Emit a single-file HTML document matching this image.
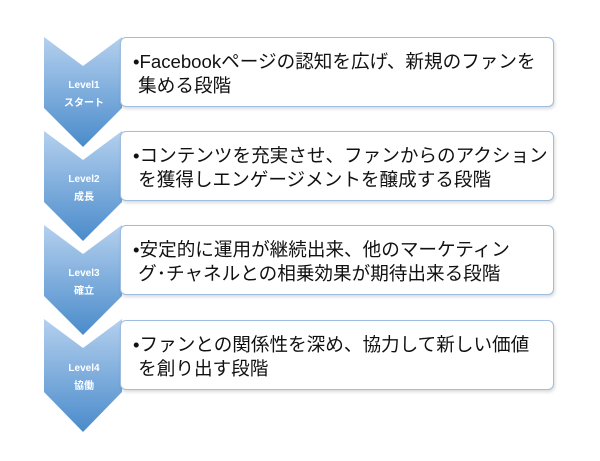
<!DOCTYPE html>
<html><head><meta charset="utf-8"><style>
body{margin:0;width:600px;height:461px;background:#fff;position:relative;overflow:hidden;font-family:"Liberation Sans","Noto Sans CJK JP",sans-serif}
.box{position:absolute;left:120px;width:434px;height:70px;border:1.5px solid #9fbde0;border-radius:6px;background:#fff;box-shadow:1px 2px 3px rgba(0,0,0,0.15);box-sizing:border-box}
.t{position:absolute;left:133px;font-size:18.6px;line-height:24px;color:#111;white-space:nowrap}
.lab{position:absolute;width:80px;left:44px;text-align:center;color:#fff;font-size:10px;font-weight:bold;line-height:18px}
</style></head><body>
<svg width="600" height="461" style="position:absolute;left:0;top:0">
<defs><linearGradient id="g" x1="0" y1="0" x2="0" y2="1"><stop offset="0" stop-color="#b4d0ee"/><stop offset="1" stop-color="#4a8bcb"/></linearGradient></defs>
<g fill="url(#g)">
<polygon points="44,37 83,66 122,37 122,108 83,147 44,108"/>
<polygon points="44,131 83,160 122,131 122,202 83,241 44,202"/>
<polygon points="44,225 83,254 122,225 122,296 83,335 44,296"/>
<polygon points="44,319 83,348 122,319 122,392 83,432 44,392"/>
</g></svg>
<div class="box" style="top:37px"></div>
<div class="box" style="top:131px"></div>
<div class="box" style="top:225px"></div>
<div class="box" style="top:320px"></div>
<div class="t" style="top:50px">•Facebookページの認知を広げ、新規のファンを<br>&nbsp;集める段階</div>
<div class="t" style="top:144px">•コンテンツを充実させ、ファンからのアクション<br>&nbsp;を獲得しエンゲージメントを醸成する段階</div>
<div class="t" style="top:238px">•安定的に運用が継続出来、他のマーケティン<br>&nbsp;グ･チャネルとの相乗効果が期待出来る段階</div>
<div class="t" style="top:333px">•ファンとの関係性を深め、協力して新しい価値<br>&nbsp;を創り出す段階</div>
<div class="lab" style="top:77px">Level1<br>スタート</div>
<div class="lab" style="top:171px">Level2<br>成長</div>
<div class="lab" style="top:265px">Level3<br>確立</div>
<div class="lab" style="top:360px">Level4<br>協働</div>
</body></html>
